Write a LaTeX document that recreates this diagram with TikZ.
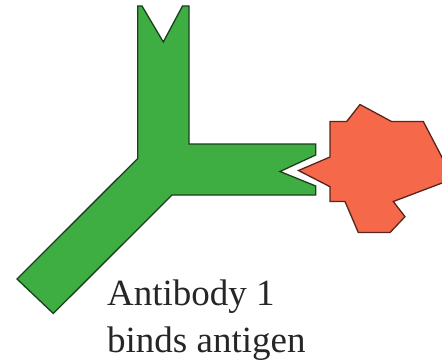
\documentclass[tikz,border=0pt]{standalone}
\usepackage{fontspec}
\setmainfont{Liberation Serif}
\definecolor{abgreen}{RGB}{62,174,66}
\definecolor{abedge}{RGB}{28,62,30}
\definecolor{agred}{RGB}{246,104,74}
\definecolor{agedge}{RGB}{84,38,28}
\begin{document}
\begin{tikzpicture}[x=1pt,y=-1pt,
  antibody/.style={fill=abgreen,draw=abedge,line width=1.3pt,line join=miter},
  antigen/.style={fill=agred,draw=agedge,line width=1.3pt,line join=miter},
  caption/.style={anchor=base west,inner sep=0pt,font=\fontsize{37}{45}\selectfont,text=black!85}]
\useasboundingbox (0,0) rectangle (442,361);
\clip (0,0) rectangle (442,361);

% Y-shaped antibody with notched binding sites
\draw[antibody] (137.7,6) -- (142,6) -- (163.3,42) -- (182.5,6) -- (189,6)
  -- (189,144) -- (315.7,144) -- (315.7,155) -- (280,171.5) -- (315.7,186)
  -- (315.7,195) -- (172,195) -- (53.3,313.5) -- (17,279) -- (137.7,158.5) -- cycle;

% Antigen with its pointed epitope fitting the notch
\draw[antigen] (298.5,170.5) -- (330,157) -- (330,121.5) -- (346.7,121.5)
  -- (360,104.5) -- (391.5,121.5) -- (423.3,121.5) -- (446,165) -- (446,181.5)
  -- (393.3,201.5) -- (405,216.7) -- (390,232.5) -- (358.3,232.5)
  -- (345,201.5) -- (330,201.5) -- (330,186.7) -- cycle;

\node[caption] (line1) at (107,305) {Antibody 1};
\node[caption] (line2) at (107,352) {binds antigen};
\end{tikzpicture}
\end{document}
